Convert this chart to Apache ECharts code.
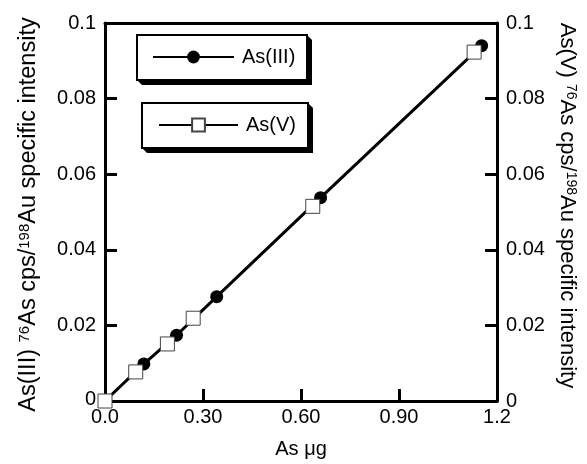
<!DOCTYPE html>
<html>
<head>
<meta charset="utf-8">
<script src="https://cdn.jsdelivr.net/npm/echarts@6/dist/echarts.min.js"></script>
<style>
html,body{margin:0;padding:0;background:#fff;}
#chart{width:587px;height:464px;}
</style>
</head>
<body>
<div id="chart"></div>
<script>
// Data
const as3Data = [[0, 0], [0.119, 0.0098], [0.219, 0.0174], [0.342, 0.0276], [0.660, 0.0538], [1.153, 0.0940]];
const as5Data = [[0, 0], [0.094, 0.0077], [0.191, 0.0151], [0.270, 0.0219], [0.636, 0.0515], [1.130, 0.0923]];
const xTickLabels = ['0.0', '0.30', '0.60', '0.90', '1.2'];
const yTickLabels = ['0', '0.02', '0.04', '0.06', '0.08', '0.1'];
const seriesNames = ['As(III)', 'As(V)'];

const FONT = '"Liberation Sans", Arial, sans-serif';
const chart = echarts.init(document.getElementById('chart'), null, {renderer: 'canvas'});

const axisLineStyle = {color: '#000', width: 3};
const AXISLINE = {show: true, onZero: false, lineStyle: axisLineStyle};
const TICK = {show: true, inside: true, length: 12, lineStyle: {color: '#000', width: 3}};

function yFmt(v) { return yTickLabels[Math.round(v / 0.02)]; }

function boxWithShadow(x1, y1, x2, y2) {
  const d = 5;
  return [{
    type: 'polygon', z: 10, silent: true,
    shape: {points: [[x2, y1], [x2 + d, y1 + d], [x2 + d, y2 + d], [x1 + d, y2 + d], [x1, y2]]},
    style: {fill: '#000'}
  }, {
    type: 'rect', z: 11, silent: true,
    shape: {x: x1, y: y1, width: x2 - x1, height: y2 - y1},
    style: {fill: '#fff', stroke: '#000', lineWidth: 2}
  }];
}

const legendCommon = {
  orient: 'horizontal', z: 20, padding: 0, itemGap: 0,
  itemHeight: 16,
  textStyle: {fontSize: 20, color: '#000', fontFamily: FONT, padding: [0, 0, 0, 3]}
};

chart.setOption({
  animation: false,
  backgroundColor: '#fff',
  grid: {left: 105, right: 90, top: 23, bottom: 49},
  graphic: [].concat(boxWithShadow(137, 35, 307, 80), boxWithShadow(142, 103, 308, 148)),
  legend: [
    Object.assign({}, legendCommon, {data: [seriesNames[0]], left: 152, top: 47, itemWidth: 81}),
    Object.assign({}, legendCommon, {data: [seriesNames[1]], left: 158, top: 115, itemWidth: 79})
  ],
  xAxis: [{
    type: 'value', min: 0, max: 1.2, interval: 0.3,
    position: 'bottom',
    name: 'As \u03bcg', nameLocation: 'middle', nameGap: 38,
    nameTextStyle: {fontSize: 20, color: '#000', fontFamily: FONT},
    axisLine: AXISLINE,
    axisTick: TICK,
    axisLabel: {
      color: '#000', fontSize: 20, fontFamily: FONT, margin: 6,
      formatter: v => xTickLabels[Math.round(v / 0.3)]
    },
    splitLine: {show: false}
  }, {
    type: 'value', min: 0, max: 1.2, interval: 0.3,
    position: 'top',
    axisLine: AXISLINE,
    axisTick: {show: false}, axisLabel: {show: false}, splitLine: {show: false}
  }],
  yAxis: [{
    type: 'value', min: 0, max: 0.1, interval: 0.02,
    position: 'left',
    name: 'As(III) {sup|76}As cps/{sup|198}Au specific intensity',
    nameLocation: 'middle', nameGap: 64, nameRotate: 90,
    nameTextStyle: {
      fontSize: 23.5, color: '#000', fontFamily: FONT, padding: [0, 5, 0, 0],
      rich: {sup: {fontSize: 15, color: '#000', fontFamily: FONT, verticalAlign: 'top'}}
    },
    axisLine: AXISLINE,
    axisTick: TICK,
    axisLabel: {
      color: '#000', fontSize: 20, fontFamily: FONT, margin: 9,
      formatter: v => (v === 0 ? '{z|0}' : yFmt(v)),
      rich: {z: {fontSize: 20, color: '#000', fontFamily: FONT, padding: [0, 0, 4, 0]}}
    },
    splitLine: {show: false}
  }, {
    type: 'value', min: 0, max: 0.1, interval: 0.02,
    position: 'right',
    name: 'As(V) {sup|76}As cps/{sup|198}Au specific intensity',
    nameLocation: 'middle', nameGap: 58, nameRotate: -90,
    nameTextStyle: {
      fontSize: 22, color: '#000', fontFamily: FONT, padding: [0, 13, 0, 0],
      rich: {sup: {fontSize: 14, color: '#000', fontFamily: FONT, verticalAlign: 'top'}}
    },
    axisLine: AXISLINE,
    axisTick: TICK,
    axisLabel: {color: '#000', fontSize: 20, fontFamily: FONT, margin: 9, formatter: yFmt},
    splitLine: {show: false}
  }],
  series: [{
    name: seriesNames[0], type: 'line', data: as3Data,
    xAxisIndex: 0, yAxisIndex: 0, z: 2,
    symbol: 'circle', symbolSize: 13, showSymbol: true,
    lineStyle: {color: '#000', width: 3},
    itemStyle: {color: '#000', borderColor: '#000', borderWidth: 0}
  }, {
    name: seriesNames[1], type: 'line', data: as5Data,
    xAxisIndex: 0, yAxisIndex: 1, z: 3,
    symbol: 'rect', symbolSize: 14, showSymbol: true,
    lineStyle: {color: '#000', width: 1},
    itemStyle: {color: '#fff', borderColor: '#444', borderWidth: 1}
  }]
});
</script>
</body>
</html>
